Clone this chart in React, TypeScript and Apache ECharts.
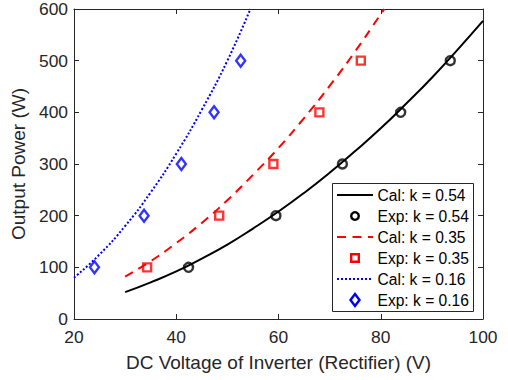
import React, { useEffect, useRef } from "react";
import * as echarts from "echarts";

// Calculated curves
const calX054 = [30, 35, 40, 45, 50, 55, 60, 65, 70, 75, 80, 85, 90, 95, 100];
const calY054 = [52, 71, 92, 117, 144, 175, 208, 244, 283, 325, 369, 417, 467, 521, 577];
const calX035 = [30, 35, 40, 45, 50, 55, 60, 65, 70, 75, 80, 80.7];
const calY035 = [82, 112, 147, 186, 230, 279, 331, 389, 451, 518, 590, 600];
const calX016 = [20, 25, 30, 35, 40, 45, 50, 54.5];
const calY016 = [80, 125, 180, 245, 320, 405, 500, 600];

// Experimental points
const expX054 = [42.4, 59.5, 72.5, 83.9, 93.6];
const expY054 = [100, 200, 300, 400, 500];
const expX035 = [34.3, 48.4, 59.0, 68.0, 76.1];
const expY035 = [100, 200, 300, 400, 500];
const expX016 = [24.0, 33.7, 41.0, 47.4, 52.6];
const expY016 = [100, 200, 300, 400, 500];

const seriesNames = [
  "Cal: k = 0.54",
  "Exp: k = 0.54",
  "Cal: k = 0.35",
  "Exp: k = 0.35",
  "Cal: k = 0.16",
  "Exp: k = 0.16",
];

const xTitle = "DC Voltage of Inverter (Rectifier) (V)";
const yTitle = "Output Power (W)";

const FONT = "'Liberation Sans', Arial, Helvetica, sans-serif";
const AX = "#262626";
const BLACK = "#000000";
const RED = "#ff0000";
const BLUE = "#0000ff";
const DASH = [9, 6.5];
const DOT = [2, 2];
const MW = 2.4;

const pairs = (xs: number[], ys: number[]) => xs.map((x, i) => [x, ys[i]]);

export default function App() {
  const ref = useRef<HTMLDivElement>(null);
  useEffect(() => {
    if (!ref.current) return;
    const chart = echarts.init(ref.current, undefined, { renderer: "svg" });
    const axisCommon = {
      axisLine: { show: true, onZero: false, lineStyle: { color: AX, width: 1 } },
      axisTick: { show: true, inside: true, length: 5, lineStyle: { color: AX, width: 1 } },
      splitLine: { show: false },
    };
    const lineSeries = (name: string, xs: number[], ys: number[], color: string, type: any) => ({
      name,
      type: "line",
      data: pairs(xs, ys),
      smooth: true,
      symbol: "none",
      showSymbol: false,
      lineStyle: { color, width: 2, type },
      itemStyle: { color },
      clip: true,
      z: 2,
    });
    const scatterSeries = (name: string, xs: number[], ys: number[], color: string, symbol: string, size: any) => ({
      name,
      type: "scatter",
      data: pairs(xs, ys),
      symbol,
      symbolSize: size,
      itemStyle: { color: "transparent", borderColor: color, borderWidth: MW },
      z: 3,
    });

    // Legend drawn with graphic elements
    const LX = 332.5, LY = 183.5, LW = 141, LH = 128;
    const rowY = (i: number) => 195 + i * 21;
    const lx1 = 337, lx2 = 373, mx = 355, tx = 377.5;
    const legendEls: any[] = [
      { type: "rect", shape: { x: LX, y: LY, width: LW, height: LH }, style: { fill: "#fff", stroke: AX, lineWidth: 1 } },
      { type: "line", shape: { x1: lx1, y1: rowY(0), x2: lx2, y2: rowY(0) }, style: { stroke: BLACK, lineWidth: 2 } },
      { type: "circle", shape: { cx: mx, cy: rowY(1), r: 3.8 }, style: { fill: "none", stroke: BLACK, lineWidth: MW } },
      { type: "line", shape: { x1: lx1, y1: rowY(2), x2: lx2, y2: rowY(2) }, style: { stroke: RED, lineWidth: 2, lineDash: DASH } },
      { type: "rect", shape: { x: mx - 3.8, y: rowY(3) - 3.8, width: 7.6, height: 7.6 }, style: { fill: "none", stroke: RED, lineWidth: MW } },
      { type: "line", shape: { x1: lx1, y1: rowY(4), x2: lx2, y2: rowY(4) }, style: { stroke: BLUE, lineWidth: 2, lineDash: DOT } },
      {
        type: "polygon",
        shape: { points: [[mx, rowY(5) - 6], [mx + 4.5, rowY(5)], [mx, rowY(5) + 6], [mx - 4.5, rowY(5)]] },
        style: { fill: "none", stroke: BLUE, lineWidth: MW },
      },
      ...seriesNames.map((n, i) => ({
        type: "text",
        x: tx,
        y: rowY(i),
        style: { text: n, fill: "#000", font: `15.6px ${FONT}`, textAlign: "left", textVerticalAlign: "middle" },
      })),
    ];

    chart.setOption({
      animation: false,
      backgroundColor: "#fff",
      textStyle: { fontFamily: FONT },
      grid: { left: 74, top: 9, right: 25, bottom: 61, containLabel: false },
      xAxis: [
        {
          type: "value",
          min: 20,
          max: 100,
          interval: 20,
          position: "bottom",
          name: xTitle,
          nameLocation: "middle",
          nameGap: 34,
          nameTextStyle: { color: AX, fontSize: 19, fontFamily: FONT },
          axisLabel: { color: AX, fontSize: 17.4, fontFamily: FONT, margin: 9 },
          ...axisCommon,
        },
        {
          type: "value",
          min: 20,
          max: 100,
          interval: 20,
          position: "top",
          axisLabel: { show: false },
          ...axisCommon,
        },
      ],
      yAxis: [
        {
          type: "value",
          min: 0,
          max: 600,
          interval: 100,
          position: "left",
          name: yTitle,
          nameLocation: "middle",
          nameGap: 40,
          nameTextStyle: { color: AX, fontSize: 19, fontFamily: FONT },
          axisLabel: { color: AX, fontSize: 17.4, fontFamily: FONT, margin: 6 },
          ...axisCommon,
        },
        {
          type: "value",
          min: 0,
          max: 600,
          interval: 100,
          position: "right",
          axisLabel: { show: false },
          ...axisCommon,
        },
      ],
      graphic: { elements: [{ type: "group", z: 100, children: legendEls }] },
      series: [
        lineSeries(seriesNames[0], calX054, calY054, BLACK, "solid"),
        scatterSeries(seriesNames[1], expX054, expY054, BLACK, "circle", 9),
        lineSeries(seriesNames[2], calX035, calY035, RED, DASH),
        scatterSeries(seriesNames[3], expX035, expY035, RED, "rect", 8),
        lineSeries(seriesNames[4], calX016, calY016, BLUE, DOT),
        scatterSeries(seriesNames[5], expX016, expY016, BLUE, "diamond", [9, 12]),
      ],
    });
    return () => chart.dispose();
  }, []);
  return (
    <div
      ref={ref}
      style={{ position: "fixed", left: 0, top: 0, width: 508, height: 380 }}
    />
  );
}
